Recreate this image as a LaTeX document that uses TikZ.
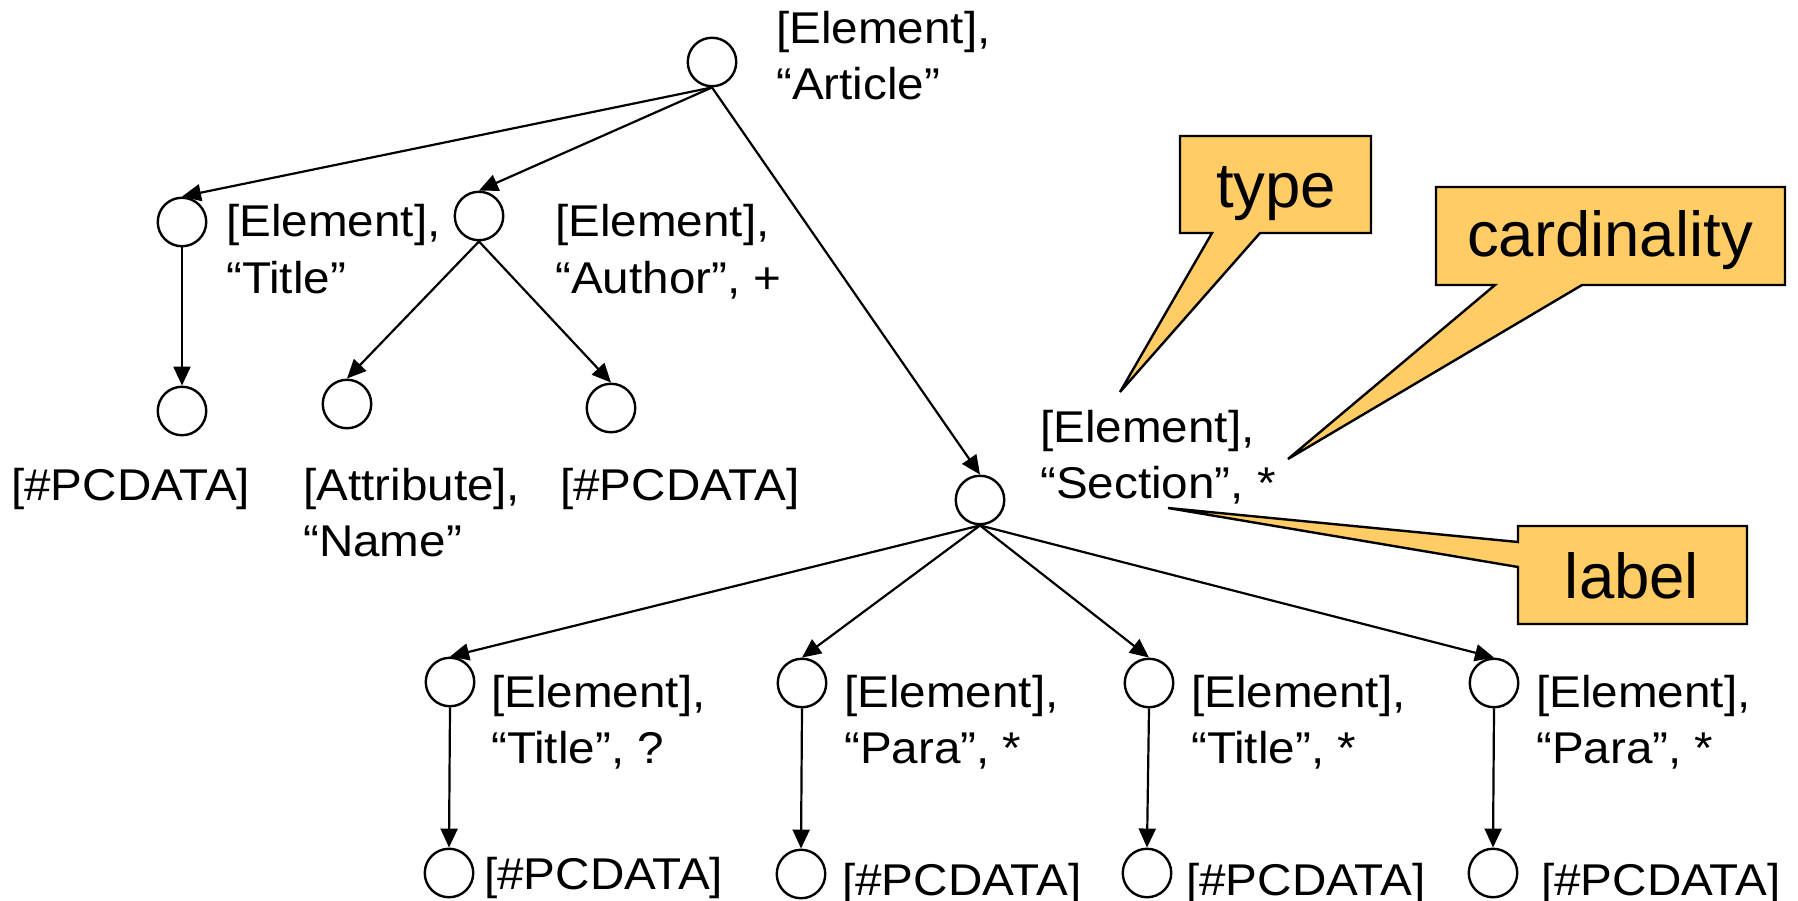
\documentclass[tikz,border=0pt]{standalone}
\usepackage{fontspec}
\setmainfont{Liberation Sans}
\newfontfamily\lblfont[FakeStretch=1.07]{Liberation Sans}
\newfontfamily\callfont{Liberation Sans}
\usetikzlibrary{arrows.meta}
\definecolor{callfill}{HTML}{FFCC66}
\tikzset{
  tnode/.style={circle, draw, line width=2.4pt, minimum size=48.5pt, inner sep=0pt},
  lbl/.style={anchor=base west, inner sep=0pt, font=\lblfont\fontsize{44.5}{56}\selectfont},
  edge/.style={line width=2.2pt, -{Triangle[length=19pt,width=17pt]}},
  callout/.style={fill=callfill, draw, line width=2.4pt, line join=miter},
  calltext/.style={anchor=base, inner sep=0pt, font=\callfont\fontsize{63.5}{70}\selectfont},
}
\newcommand{\twoline}[2]{\begin{tabular}[t]{@{}l@{}}#1\\#2\end{tabular}}
\begin{document}
\begin{tikzpicture}[x=1pt,y=-1pt]
\useasboundingbox (0,0) rectangle (1798,901);
% tree nodes
\node[tnode] (root) at (712,62) {};
\node[tnode] (t1) at (182,222) {};
\node[tnode] (au) at (479,216) {};
\node[tnode] (p1) at (182,411) {};
\node[tnode] (at) at (347,404) {};
\node[tnode] (p2) at (611,408) {};
\node[tnode] (sec) at (980,500) {};
\node[tnode] (b1) at (450,682) {};
\node[tnode] (b2) at (802,683) {};
\node[tnode] (b3) at (1149,683) {};
\node[tnode] (b4) at (1494,683) {};
\node[tnode] (q1) at (449,873) {};
\node[tnode] (q2) at (801,874) {};
\node[tnode] (q3) at (1147,873) {};
\node[tnode] (q4) at (1493,873) {};
% labels
\node[lbl] (lroot) at (776,44) {\twoline{[Element],}{“Article”}};
\node[lbl] (lt1) at (226,237) {\twoline{[Element],}{“Title”}};
\node[lbl] (lau) at (555,237) {\twoline{[Element],}{“Author”, +}};
\node[lbl] (lp1) at (11,500) {[\#PCDATA]};
\node[lbl] (lat) at (303,500) {\twoline{[Attribute],}{“Name”}};
\node[lbl] (lp2) at (560,500) {[\#PCDATA]};
\node[lbl] (lsec) at (1040,442) {\twoline{[Element],}{“Section”, *}};
\node[lbl] (lb1) at (491,707) {\twoline{[Element],}{“Title”, ?}};
\node[lbl] (lb2) at (844,707) {\twoline{[Element],}{“Para”, *}};
\node[lbl] (lb3) at (1191,707) {\twoline{[Element],}{“Title”, *}};
\node[lbl] (lb4) at (1536,707) {\twoline{[Element],}{“Para”, *}};
\node[lbl] (lq1) at (484,889) {[\#PCDATA]};
\node[lbl] (lq2) at (842,895) {[\#PCDATA]};
\node[lbl] (lq3) at (1186,895) {[\#PCDATA]};
\node[lbl] (lq4) at (1541,895) {[\#PCDATA]};
% edges
\draw[edge] (root.south) -- (t1.north);
\draw[edge] (root.south) -- (au.north);
\draw[edge] (root.south) -- (sec.north);
\draw[edge] (t1.south) -- (p1.north);
\draw[edge] (au.south) -- (at.north);
\draw[edge] (au.south) -- (p2.north);
\draw[edge] (sec.south) -- (b1.north);
\draw[edge] (sec.south) -- (b2.north);
\draw[edge] (sec.south) -- (b3.north);
\draw[edge] (sec.south) -- (b4.north);
\draw[edge] (b1.south) -- (q1.north);
\draw[edge] (b2.south) -- (q2.north);
\draw[edge] (b3.south) -- (q3.north);
\draw[edge] (b4.south) -- (q4.north);
% callouts
\filldraw[callout] (1180,136) -- (1371,136) -- (1371,233) -- (1260,233) -- (1120,392) -- (1212,233) -- (1180,233) -- cycle;
\node[calltext] (ctype) at (1276,208) {type};
\filldraw[callout] (1436,187) -- (1785,187) -- (1785,285) -- (1582,285) -- (1288,459) -- (1495,285) -- (1436,285) -- cycle;
\node[calltext] (ccard) at (1610,257) {cardinality};
\filldraw[callout] (1518,526) -- (1747,526) -- (1747,624) -- (1518,624) -- (1518,567) -- (1168,508) -- (1518,542) -- cycle;
\node[calltext] (clabel) at (1632,598) {label};
\end{tikzpicture}
\end{document}
